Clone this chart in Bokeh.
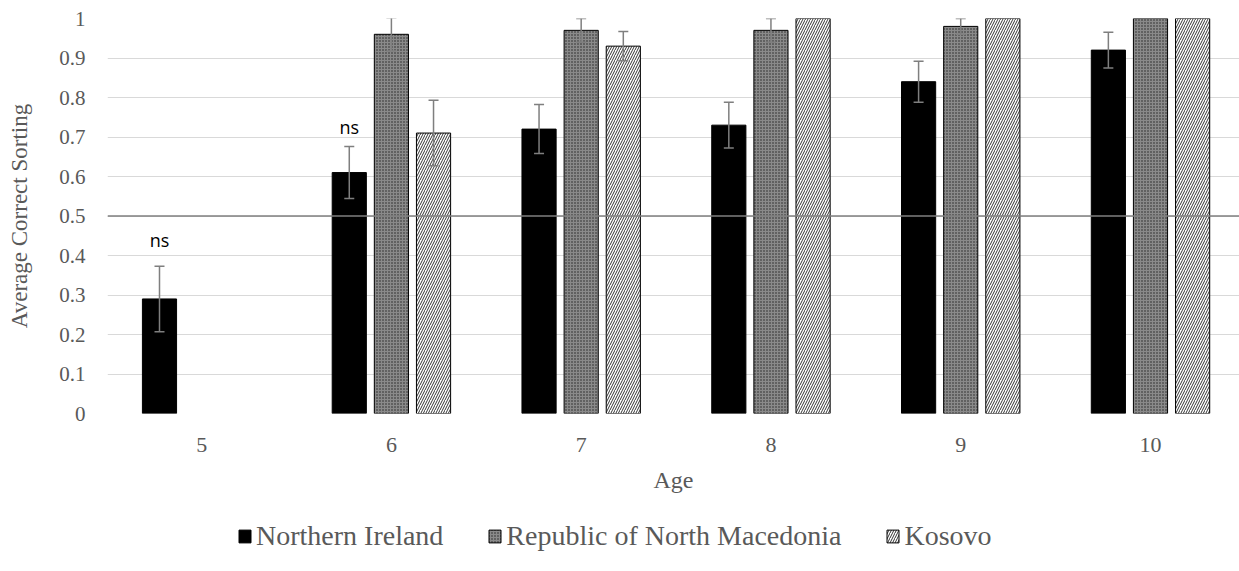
from bokeh.plotting import figure
from bokeh.models import ColumnDataSource, Whisker, Span, Legend, LegendItem, FixedTicker
from bokeh.layouts import column
from bokeh.embed import file_html
from bokeh.resources import INLINE
from bokeh.core.properties import value
import numpy as np

ages = [5, 6, 7, 8, 9, 10]
ni_vals = [0.29, 0.61, 0.72, 0.73, 0.84, 0.92]
ni_err = [0.083, 0.066, 0.062, 0.058, 0.052, 0.045]
mk_vals = [np.nan, 0.96, 0.97, 0.97, 0.98, 1.0]
mk_err = [np.nan, 0.042, 0.03, 0.03, 0.02, 0.0]
ks_vals = [np.nan, 0.71, 0.93, 1.0, 1.0, 1.0]
ks_err = [np.nan, 0.083, 0.037, 0.0, 0.0, 0.0]
series_names = ["Northern Ireland", "Republic of North Macedonia", "Kosovo"]
ns_ages = [5, 6]
ns_heights = [0.438, 0.725]
y_ticks = [0, 0.1, 0.2, 0.3, 0.4, 0.5, 0.6, 0.7, 0.8, 0.9, 1]
chance_level = 0.5

offsets = [-0.222, 0.0, 0.222]
bar_w = 0.18

p = figure(width=1239, height=501, output_backend="svg", toolbar_location=None,
           x_range=(4.504, 10.469), y_range=(0, 1.0),
           min_border_left=107, min_border_top=18, min_border_right=0, min_border_bottom=88)
p.outline_line_color = None
p.xgrid.grid_line_color = None
p.ygrid.grid_line_color = "#d9d9d9"
p.ygrid.grid_line_width = 1.2
p.yaxis.ticker = FixedTicker(ticks=y_ticks)
p.xaxis.ticker = FixedTicker(ticks=ages)
for ax in (p.xaxis, p.yaxis):
    ax.axis_line_color = None
    ax.major_tick_line_color = None
    ax.minor_tick_line_color = None
    ax.major_label_text_font = "Liberation Serif"
    ax.major_label_text_color = "#595959"
    ax.axis_label_text_font = "Liberation Serif"
    ax.axis_label_text_color = "#595959"
    ax.axis_label_text_font_style = "normal"
p.yaxis.major_label_text_font_size = "21px"
p.xaxis.major_label_text_font_size = "22px"
p.yaxis.axis_label_text_font_size = "23px"
p.xaxis.axis_label_text_font_size = "24px"
p.yaxis.axis_label = "Average Correct Sorting"
p.xaxis.axis_label = "Age"
p.yaxis.major_label_standoff = 16
p.yaxis.axis_label_standoff = 24
p.xaxis.major_label_standoff = 18
p.xaxis.axis_label_standoff = 12

styles = [
    dict(fill_color="black", line_color="black"),
    dict(fill_color="#8a8a8a", line_color="black", hatch_pattern="dot", hatch_scale=3,
         hatch_color="#222222", hatch_weight=1),
    dict(fill_color="white", line_color="black", hatch_pattern="/", hatch_scale=5,
         hatch_color="#333333", hatch_weight=1),
]
for vals, errs, off, st in zip([ni_vals, mk_vals, ks_vals], [ni_err, mk_err, ks_err], offsets, styles):
    x = np.array([a + off for a in ages])
    v = np.array(vals, dtype=float)
    e = np.array(errs, dtype=float)
    mask = ~np.isnan(v)
    src = ColumnDataSource(dict(x=x[mask], top=v[mask]))
    p.vbar(x="x", top="top", width=bar_w, bottom=0, source=src, line_width=1, **st)
    emask = mask & (np.nan_to_num(e) > 0)
    esrc = ColumnDataSource(dict(x=x[emask], upper=(v + e)[emask], lower=(v - e)[emask]))
    w = Whisker(base="x", upper="upper", lower="lower", source=esrc,
                line_color="#7f7f7f", line_width=1.5, level="overlay")
    for h in (w.upper_head, w.lower_head):
        h.line_color = "#7f7f7f"
        h.size = 10
        h.line_width = 1.5
    p.add_layout(w)

p.add_layout(Span(location=chance_level, dimension="width", line_color="#7f7f7f", line_width=1.5))

p.text(x=[a + offsets[0] for a in ns_ages], y=ns_heights, text=["ns", "ns"],
       text_font=value("Open Sans"), text_font_size="18px", text_color="black",
       text_align="center", text_baseline="alphabetic")

# legend strip below the chart (same left border so the frames line up)
lg = figure(width=1239, height=70, output_backend="svg", toolbar_location=None,
            x_range=(0, 1), y_range=(0, 1),
            min_border_left=107, min_border_right=0, min_border_top=0, min_border_bottom=0)
lg.axis.visible = False
lg.grid.grid_line_color = None
lg.outline_line_color = None
# hidden renderers that only provide the legend swatches
leg_renderers = [lg.vbar(x=[0.5], top=[1], width=0.1, line_width=1, visible=False, **st) for st in styles]
legend = Legend(items=[LegendItem(label=n, renderers=[r], index=0) for n, r in zip(series_names, leg_renderers)],
                orientation="horizontal", location="center_left",
                label_text_font="Liberation Serif", label_text_font_size="28px",
                label_text_color="#595959", glyph_width=15, glyph_height=16,
                spacing=44, border_line_color=None, background_fill_alpha=0,
                inactive_fill_alpha=0,
                margin=130, padding=0, label_standoff=4)
lg.add_layout(legend, "center")

layout = column(p, lg, spacing=0)
open("out.html", "w").write(file_html(layout, INLINE))
